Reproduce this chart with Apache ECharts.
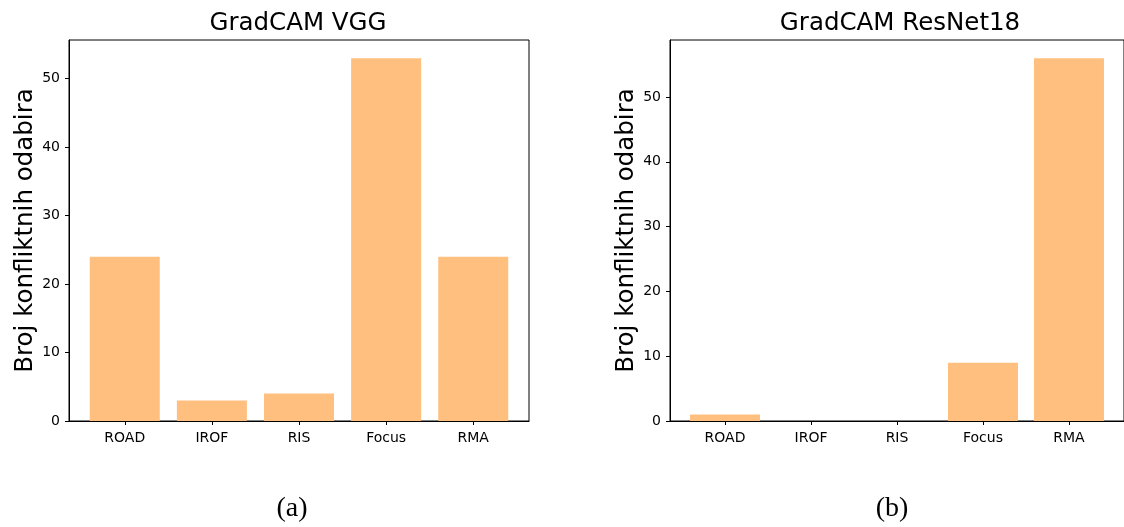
<!DOCTYPE html>
<html><head><meta charset="utf-8">
<script src="https://cdn.jsdelivr.net/npm/echarts@6/dist/echarts.min.js"></script>
<style>html,body{margin:0;padding:0;background:#fff}#c{width:1124px;height:527px}</style>
</head><body><div id="c"></div>
<script>
const categories = ['ROAD', 'IROF', 'RIS', 'Focus', 'RMA'];
const vggValues = [24, 3, 4, 53, 24];
const resnetValues = [1, 0, 0, 9, 56];
const yTicks = [0, 10, 20, 30, 40, 50];
const titles = ['GradCAM VGG', 'GradCAM ResNet18'];
const captions = ['(a)', '(b)'];
const yLabel = 'Broj konfliktnih odabira';

const barColor = '#ffbf7f';
const font = 'DejaVu Sans';
const idx = categories.map((_, i) => i);

function xAxisFor(gi) {
  return {
    type: 'value', gridIndex: gi, min: -0.64, max: 4.64,
    axisLine: {show: true, onZero: false, lineStyle: {color: '#000', width: 1}},
    axisTick: {show: true, customValues: idx, length: 4, lineStyle: {color: '#000'}},
    axisLabel: {show: true, customValues: idx, formatter: v => categories[Math.round(v)] || '',
      color: '#000', fontFamily: font, fontSize: 14, margin: 10},
    splitLine: {show: false}
  };
}
function yAxisFor(gi, max) {
  return {
    type: 'value', gridIndex: gi, min: 0, max: max, interval: 10,
    name: yLabel, nameLocation: 'middle', nameRotate: 90, nameGap: 25,
    nameTextStyle: {fontFamily: font, fontSize: 24.5, color: '#000'},
    axisLine: {show: true, onZero: false, lineStyle: {color: '#000', width: 1}},
    axisTick: {show: true, customValues: yTicks, length: 4, lineStyle: {color: '#000'}},
    axisLabel: {customValues: yTicks, color: '#000', fontFamily: font, fontSize: 14, margin: 9},
    splitLine: {show: false}
  };
}
const chart = echarts.init(document.getElementById('c'), null, {renderer: 'canvas'});
chart.setOption({
  animation: false,
  backgroundColor: '#fff',
  title: [
    {text: titles[0], left: 293, top: 6, textAlign: 'center', textStyle: {fontFamily: font, fontSize: 24.5, fontWeight: 'normal', color: '#000'}},
    {text: titles[1], left: 895, top: 6, textAlign: 'center', textStyle: {fontFamily: font, fontSize: 24.5, fontWeight: 'normal', color: '#000'}},
    {text: captions[0], left: 287, top: 490, textAlign: 'center', textStyle: {fontFamily: 'Liberation Serif', fontSize: 28, fontWeight: 'normal', color: '#000'}},
    {text: captions[1], left: 887, top: 490, textAlign: 'center', textStyle: {fontFamily: 'Liberation Serif', fontSize: 28, fontWeight: 'normal', color: '#000'}}
  ],
  grid: [
    {left: 69, top: 40, width: 460, height: 381, show: true, borderColor: '#000', borderWidth: 1, backgroundColor: 'transparent'},
    {left: 670, top: 40, width: 459, height: 381, show: true, borderColor: '#000', borderWidth: 1, backgroundColor: 'transparent'}
  ],
  xAxis: [xAxisFor(0), xAxisFor(1)],
  yAxis: [yAxisFor(0, 55.65), yAxisFor(1, 58.8)],
  series: [
    {type: 'bar', xAxisIndex: 0, yAxisIndex: 0, barWidth: 70, itemStyle: {color: barColor},
      data: vggValues.map((v, i) => [i, v])},
    {type: 'bar', xAxisIndex: 1, yAxisIndex: 1, barWidth: 70, itemStyle: {color: barColor},
      data: resnetValues.map((v, i) => [i, v])}
  ]
});
</script>
</body></html>
